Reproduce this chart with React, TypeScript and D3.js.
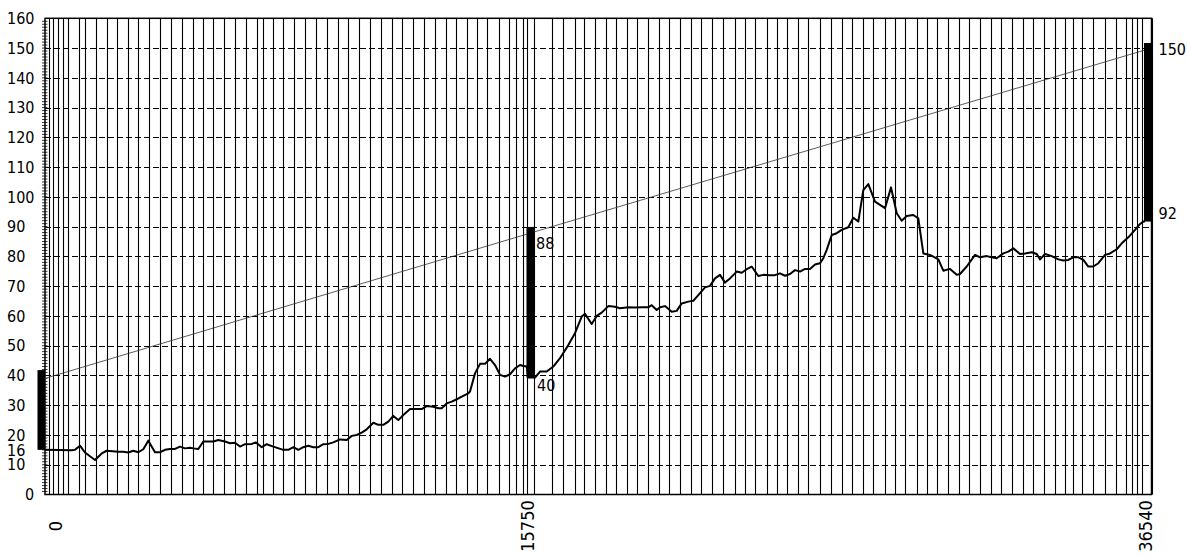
import React from 'react';
import * as d3 from 'd3';

// ---------- data ----------
const xBreaks = [0, 15750, 36540];
const xTickLabels = ['0', '15750', '36540'];
const yTicks = [0, 10, 20, 30, 40, 50, 60, 70, 80, 90, 100, 110, 120, 130, 140, 150, 160];

// station grid lines (m)
const stations = [
  130, 250, 430, 590, 750, 1100, 1290, 1640, 1990, 2330, 2660, 3000, 3350, 3700, 4050, 4400, 4760,
  5080, 5420, 5770, 6120, 6460, 6820, 7010, 7330, 7680, 8030, 8370, 8730, 9070, 9430, 9770, 10120,
  10470, 10820, 11170, 11510, 11850, 12210, 12560, 12900, 13240, 13580, 13910, 14250, 14630, 14950,
  15170, 15410, 15540, 15750, 16350, 16740, 17130, 17430, 17800, 18160, 18520, 18870, 19230,
  19590, 19950, 20300, 20660, 21020, 21370, 21730, 22120, 22520, 22850, 23190, 23590, 23920, 24260,
  24650, 24990, 25380, 25750, 26110, 26450, 26840, 27170, 27570, 27910, 28240, 28640, 28970, 29330,
  29690, 30050, 30410, 30770, 31130, 31480, 31840, 32200, 32560, 32920, 33280, 33640, 33900, 34190,
  34580, 34980, 35340, 35670, 35870, 36040, 36210, 36540,
];

// ground profile: distance (m)
const groundDist = [
  0, 860, 966, 1127, 1288, 1610, 1826, 1987, 2361, 2522, 2683, 2844, 3005, 3166, 3327, 3543, 3704,
  3865, 4026, 4187, 4348, 4509, 4670, 4777, 4938, 5099, 5421, 5582, 5798, 5959, 6120, 6281, 6442,
  6658, 6796, 6980, 7141, 7354, 7676, 7837, 7998, 8159, 8320, 8481, 8642, 8803, 8964, 9125, 9286,
  9502, 9718, 9879, 10040, 10201, 10362, 10575, 10736, 10897, 11058, 11219, 11380, 11541, 11757,
  11918, 12134, 12295, 12507, 12668, 12778, 12939, 13100, 13261, 13422, 13635, 13689, 13850, 14011,
  14172, 14333, 14495, 14656, 14817, 14978, 15139, 15300, 15406, 15516, 15567, 15750, 15784, 15952,
  16178, 16400, 16625, 16905, 17130, 17356, 17467, 17693, 17861, 18029, 18252, 18477, 18646, 18925,
  19151, 19376, 19598, 19713, 19881, 19992, 20161, 20386, 20555, 20723, 20945, 21114, 21282, 21508,
  21676, 21844, 22013, 22181, 22349, 22575, 22743, 22912, 23080, 23302, 23471, 23696, 23864, 24033,
  24201, 24370, 24538, 24706, 24875, 25043, 25211, 25380, 25491, 25605, 25774, 25942, 26110, 26333,
  26501, 26669, 26838, 27006, 27231, 27568, 27770, 27962, 28130, 28299, 28521, 28689, 28858, 29083,
  29363, 29531, 29757, 29982, 30093, 30319, 30598, 30767, 30992, 31161, 31329, 31551, 31720, 31888,
  32114, 32282, 32508, 32676, 32787, 32955, 33181, 33403, 33572, 33740, 33908, 34077, 34245, 34413,
  34582, 34750, 34976, 35144, 35369, 35538, 35760, 35986, 36154, 36265, 36323,
];
// ground profile: elevation
const groundElev = [
  15.0, 14.9, 15.0, 16.4, 14.1, 11.6, 13.8, 14.7, 14.4, 14.4, 14.1, 14.7, 14.2, 15.2, 18.1, 14.2, 14.2,
  15.0, 15.3, 15.3, 16.1, 15.5, 15.7, 15.5, 15.3, 17.8, 17.8, 18.3, 17.8, 17.2, 17.4, 16.1, 16.9,
  17.0, 17.5, 15.9, 16.9, 16.1, 15.0, 15.0, 15.9, 15.0, 15.9, 16.4, 15.9, 15.9, 16.9, 17.0, 17.5,
  18.5, 18.3, 19.7, 20.0, 20.8, 21.9, 24.1, 23.4, 23.4, 24.5, 26.4, 25.0, 26.7, 28.7,
  28.7, 28.7, 29.7, 29.5, 29.0, 29.0, 30.6, 31.2, 32.0, 32.9, 34.0, 34.6, 40.7, 43.9,
  43.9, 45.6, 43.5, 40.2, 39.6, 40.4, 42.4, 43.5, 43.2, 43.0, 39.3, 39.3, 39.3, 41.3,
  41.3, 43.0, 45.8, 50.2, 54.2, 59.8, 60.7, 57.3, 60.0, 61.1, 63.3, 63.1, 62.6, 62.9,
  62.8, 62.9, 62.9, 63.6, 62.0, 62.9, 63.3, 61.4, 61.7, 64.2, 64.8, 65.1, 67.0, 69.6,
  70.1, 72.6, 73.8, 71.2, 72.6, 74.9, 74.5, 75.7, 76.6, 73.4, 73.8, 73.7, 73.7, 74.3,
  73.5, 74.1, 75.4, 74.9, 75.8, 75.8, 77.3, 77.7, 79.4, 82.2, 87.2, 87.8, 88.9, 89.8,
  93.0, 91.7, 102.3, 104.3, 98.4, 96.2, 103.2, 94.5, 92.0, 93.6, 93.9, 92.8, 81.0, 80.5,
  79.0, 75.2, 75.8, 73.8, 74.1, 76.6, 80.5, 79.7, 80.1, 79.7, 79.4, 81.0, 81.6, 82.7,
  80.8, 81.0, 81.4, 80.8, 79.0, 80.8, 80.1, 79.0, 78.6, 78.8, 79.7, 79.7, 78.8, 76.6,
  76.6, 77.7, 80.5, 81.0, 82.4, 84.4, 86.4, 88.9, 90.9, 91.7, 91.7,
];

// design line
const designDist = [0, 15750, 36540];
const designElev = [39, 88.2, 150];

// bars between ground and design at control stations
const barStations = [0, 15750, 36540];
const barLow = [15.0, 39.3, 91.7];
const barHigh = [41.8, 89.9, 151.7];

// value annotations
const annoText = ['88', '40', '150', '92'];
const annoStation = [15750, 15750, 36540, 36540];
const annoValue = [88, 40, 150, 92];
const startLabel = '16';
const startValue = 15.0;

// ---------- layout ----------
const W = 1187;
const H = 559;
const left = 45;
const right = 1151.5;
const top = 18.3;
const bottom = 494.5;
const FONT = '"Liberation Sans Narrow", "DejaVu Sans Condensed", "Liberation Sans", sans-serif';

export default function App() {
  const x = d3.scaleLinear().domain(xBreaks).range([left, 534, right]);
  const y = d3.scaleLinear().domain([0, 160]).range([bottom, top]);

  const ground = groundDist.map((d, i) => [d, groundElev[i]] as [number, number]);
  const design = designDist.map((d, i) => [d, designElev[i]] as [number, number]);
  const line = d3
    .line<[number, number]>()
    .x((d) => x(d[0]))
    .y((d) => y(d[1]));

  const minor = d3.range(1, 160);
  const annoDy = [11, 10, 1, -7];
  const annoDx = [2, 3, 7, 7];

  return (
    <svg
      width={W}
      height={H}
      style={{ position: 'absolute', left: 0, top: 0, background: '#fff' }}
      fontFamily={FONT}
    >
      <rect x={0} y={0} width={W} height={H} fill="#fff" />
      {/* horizontal dashed grid */}
      {yTicks
        .filter((t) => t > 0 && t < 160)
        .map((t) => (
          <line
            key={'h' + t}
            x1={left}
            x2={right}
            y1={Math.round(y(t)) + 0.5}
            y2={Math.round(y(t)) + 0.5}
            stroke="#000"
            strokeWidth={1}
            strokeDasharray="6 3"
          />
        ))}
      {/* station lines */}
      {stations.map((s, i) => (
        <line
          key={'v' + i}
          x1={Math.round(x(s)) + 0.5}
          x2={Math.round(x(s)) + 0.5}
          y1={top}
          y2={bottom}
          stroke="#000"
          strokeWidth={1.1}
        />
      ))}
      {/* minor ticks */}
      {minor.map((t) => (
        <line key={'m' + t} x1={left - 3} x2={left + 2.5} y1={y(t)} y2={y(t)} stroke="#000" strokeWidth={0.8} />
      ))}
      {/* frame */}
      <rect x={left} y={top} width={right - left} height={bottom - top} fill="none" stroke="#000" strokeWidth={1.5} />
      {/* design line */}
      <path d={line(design) || ''} fill="none" stroke="#333" strokeWidth={0.8} />
      {/* ground */}
      <path d={line(ground) || ''} fill="none" stroke="#000" strokeWidth={2} strokeLinejoin="round" />
      {/* bars */}
      {barStations.map((s, i) => (
        <rect key={'b' + i} x={x(s) - 7.5} y={y(barHigh[i])} width={7.5} height={y(barLow[i]) - y(barHigh[i])} fill="#000" />
      ))}
      {/* y labels */}
      {yTicks.map((t) => (
        <text key={'yl' + t} x={t === 0 ? 25 : 7} y={y(t)} dy="0.36em" fontSize={16} fill="#000">
          {t}
        </text>
      ))}
      <text x={7} y={y(startValue)} dy="0.36em" fontSize={16} fill="#000">
        {startLabel}
      </text>
      {/* annotations */}
      {annoText.map((t, i) => (
        <text key={'a' + i} x={x(annoStation[i]) + annoDx[i]} y={y(annoValue[i]) + annoDy[i]} dy="0.36em" fontSize={16} fill="#000">
          {t}
        </text>
      ))}
      {/* x labels */}
      {xBreaks.map((s, i) => (
        <text
          key={'xl' + i}
          transform={`translate(${Math.max(x(s), 62)},526) rotate(-90)`}
          textAnchor="middle"
          fontSize={18}
          fill="#000"
        >
          {xTickLabels[i]}
        </text>
      ))}
    </svg>
  );
}
